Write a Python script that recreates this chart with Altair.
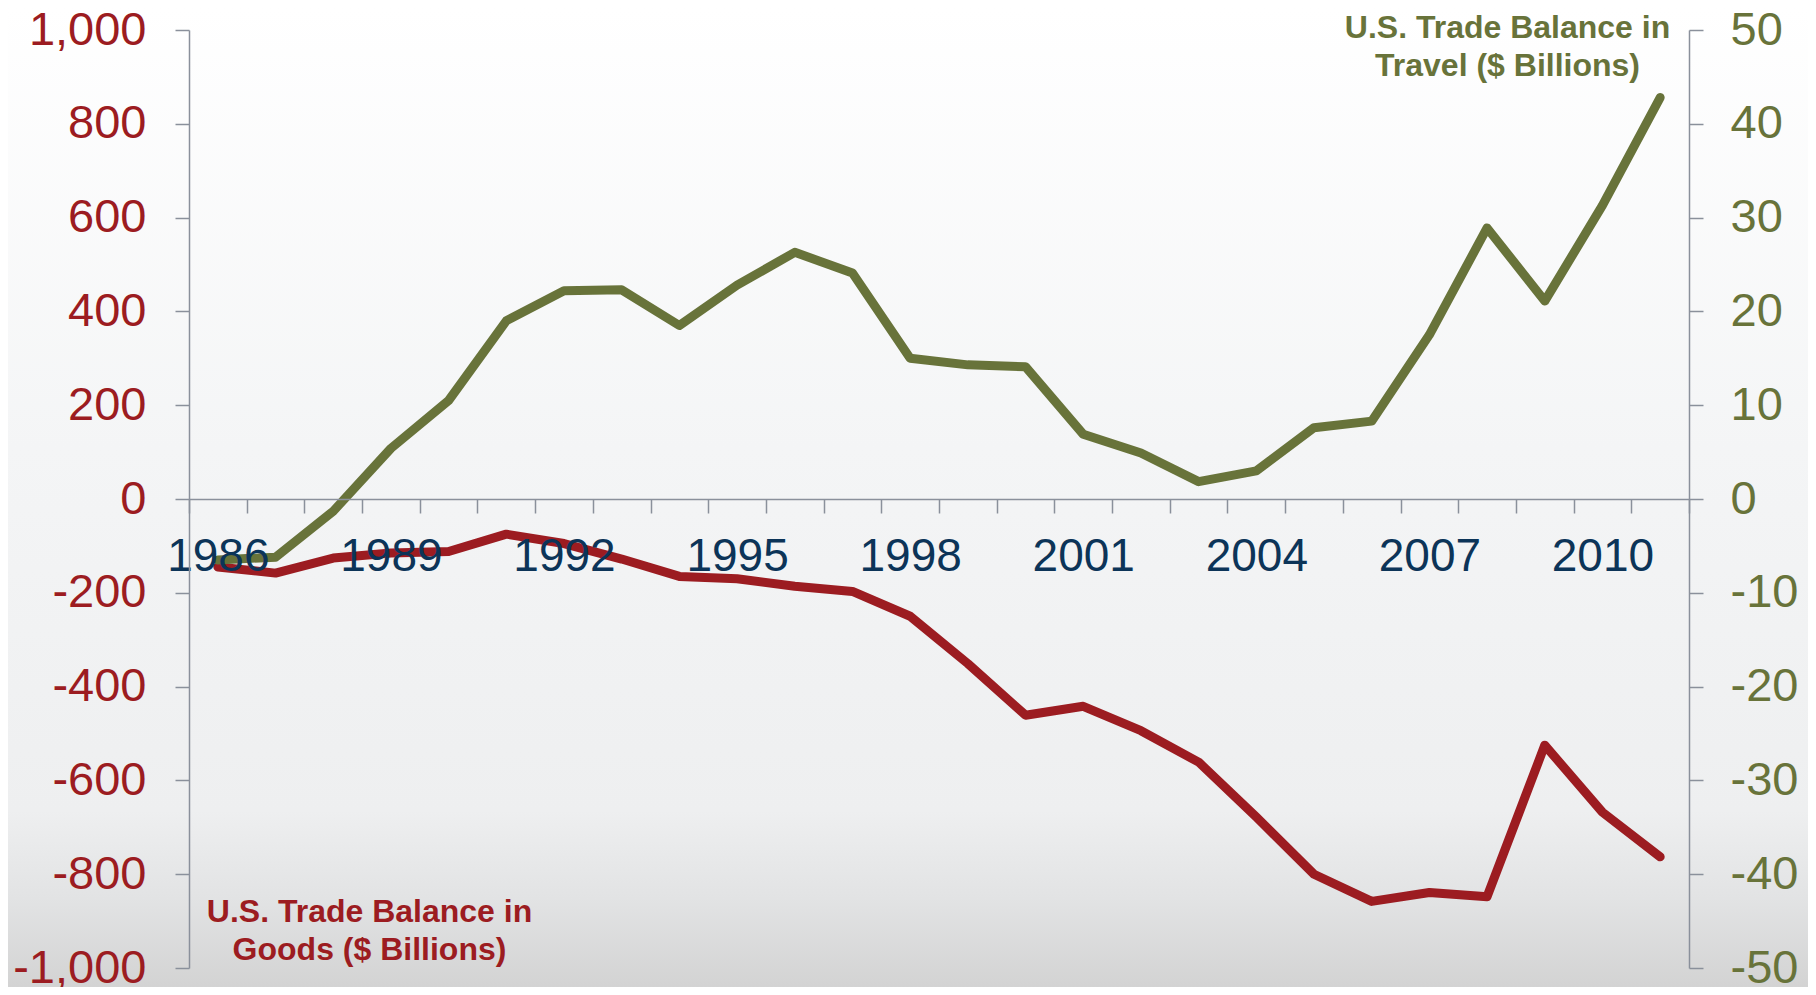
import altair as alt
import pandas as pd

# ---------------- data ----------------
years = list(range(1986, 2012))
goods = [-145, -158, -126, -115, -112, -75, -95, -128, -165, -170, -186, -197, -250,
         -351, -461, -442, -494, -561, -678, -800, -858, -839, -848, -525, -668, -763]
travel = [-6.5, -6.2, -1.3, 5.4, 10.5, 19.0, 22.2, 22.3, 18.5, 22.8, 26.3, 24.1, 15.0,
          14.3, 14.1, 6.9, 4.9, 1.85, 3.0, 7.6, 8.3, 17.5, 28.9, 21.1, 31.3, 42.8]
goods_ticks = list(range(-1000, 1001, 200))
travel_ticks = list(range(-50, 51, 10))
goods_label = ["U.S. Trade Balance in", "Goods ($ Billions)"]
travel_label = ["U.S. Trade Balance in", "Travel ($ Billions)"]

# ---------------- style ----------------
RED = "#9c1c21"
OLIVE = "#68733a"
NAVY = "#0c3458"
GRAY = "#8a909b"
FONT = "Liberation Sans"
W, H = 1500, 938
PAD = {"left": 181, "top": 22, "right": 119, "bottom": 19}

df = pd.DataFrame({"year": years, "goods": goods, "travel": travel})
one = pd.DataFrame({"k": [0]})

x_enc = alt.X(
    "year:O",
    bandPosition=0.5,
    scale=alt.Scale(type="band", paddingInner=0, paddingOuter=0),
    axis=alt.Axis(
        title=None, orient="bottom", offset=-H / 2, tickBand="extent",
        tickSize=14, tickColor=GRAY, tickWidth=1.5, domainColor=GRAY, domainWidth=1.5,
        labelColor=NAVY, labelFontSize=46, labelFont=FONT, labelPadding=21,
        labelAngle=0, labelOverlap=False,
        labelExpr="(datum.value - 1986) % 3 == 0 ? datum.label : ''", zindex=1,
    ),
)

sign_expr = "(datum.value < 0 ? '-' : '') + format(abs(datum.value), ',')"

bg = alt.Chart(one).mark_rect(
    color=alt.LinearGradient(
        gradient="linear", x1=0, x2=0, y1=0, y2=1,
        stops=[
            alt.GradientStop(color="#ffffff", offset=0),
            alt.GradientStop(color="#f4f5f6", offset=0.45),
            alt.GradientStop(color="#eeeff0", offset=0.82),
            alt.GradientStop(color="#e2e3e4", offset=0.91),
            alt.GradientStop(color="#d3d3d3", offset=1),
        ],
    )
).encode(
    x=alt.value(-PAD["left"]), x2=alt.value(W + PAD["right"]),
    y=alt.value(-PAD["top"]), y2=alt.value(H + PAD["bottom"]),
)

red_line = alt.Chart(df).mark_line(
    color=RED, strokeWidth=9, strokeCap="round", strokeJoin="round"
).encode(
    x=x_enc,
    y=alt.Y(
        "goods:Q",
        scale=alt.Scale(domain=[-1000, 1000], nice=False, zero=False),
        axis=alt.Axis(
            orient="left", title=None, grid=False, values=goods_ticks,
            tickSize=14, tickColor=GRAY, tickWidth=1.5, domainColor=GRAY, domainWidth=1.5,
            labelColor=RED, labelFontSize=47, labelFont=FONT, labelPadding=29,
            labelOverlap=False, labelExpr=sign_expr, zindex=1,
        ),
    ),
)

green_line = alt.Chart(df).mark_line(
    color=OLIVE, strokeWidth=9, strokeCap="round", strokeJoin="round"
).encode(
    x=x_enc,
    y=alt.Y(
        "travel:Q",
        scale=alt.Scale(domain=[-50, 50], nice=False, zero=False),
        axis=alt.Axis(
            orient="right", title=None, grid=False, values=travel_ticks,
            tickSize=14, tickColor=GRAY, tickWidth=1.5, domainColor=GRAY, domainWidth=1.5,
            labelColor=OLIVE, labelFontSize=47, labelFont=FONT, labelPadding=27,
            labelOverlap=False, labelExpr=sign_expr, zindex=1,
        ),
    ),
)

goods_text = alt.Chart(one).mark_text(
    text=goods_label, color=RED, font=FONT, fontSize=32, fontWeight="bold",
    align="center", baseline="alphabetic", lineHeight=38,
).encode(x=alt.value(180.5), y=alt.value(892))

travel_text = alt.Chart(one).mark_text(
    text=travel_label, color=OLIVE, font=FONT, fontSize=32, fontWeight="bold",
    align="center", baseline="alphabetic", lineHeight=38,
).encode(x=alt.value(1318.5), y=alt.value(8))

chart = alt.layer(bg, red_line, green_line, goods_text, travel_text).resolve_scale(
    y="independent"
).properties(
    width=W, height=H,
    autosize=alt.AutoSizeParams(type="none"),
    padding=PAD,
).configure_view(stroke=None)

chart.save("out.html", embed_options={"renderer": "svg", "actions": False})
